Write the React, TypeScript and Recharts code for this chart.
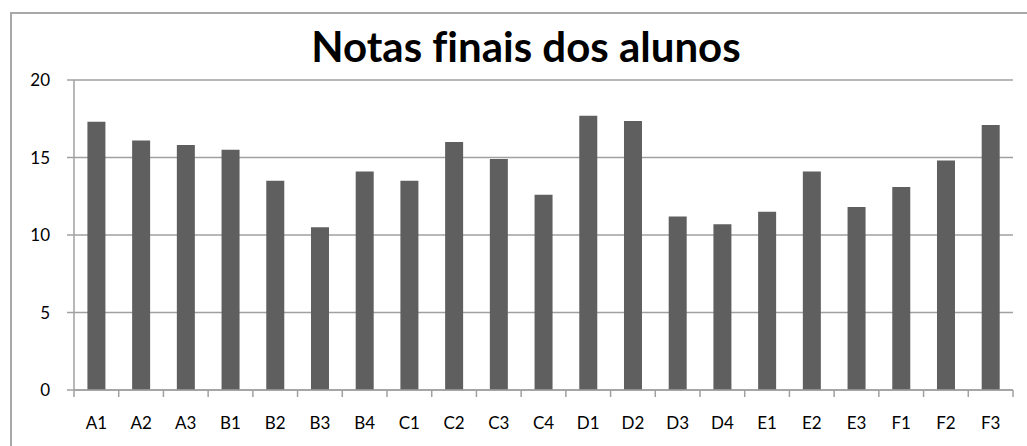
import React from 'react';
import { BarChart, Bar, XAxis, YAxis, CartesianGrid } from 'recharts';

// Student labels and final grades
const alunos = ['A1', 'A2', 'A3', 'B1', 'B2', 'B3', 'B4', 'C1', 'C2', 'C3', 'C4', 'D1', 'D2', 'D3', 'D4', 'E1', 'E2', 'E3', 'F1', 'F2', 'F3'];
const notas = [17.3, 16.1, 15.8, 15.5, 13.5, 10.5, 14.1, 13.5, 16.0, 14.9, 12.6, 17.7, 17.35, 11.2, 10.7, 11.5, 14.1, 11.8, 13.1, 14.8, 17.1];
const yTicks = [0, 5, 10, 15, 20];

const data = alunos.map((a, i) => ({ aluno: a, nota: notas[i] }));

const FONT = 'Lato, "Open Sans", sans-serif';
const AXIS_GREY = '#a0a0a0';
const TEXT = '#000';
const TICK_SIZE = 7;
const TICK_MARGIN = 26;

// Excel-style category axis: label centered, tick marks on the category boundaries
const CategoryTick = (props: any) => {
    const { x, y, payload, index, visibleTicksCount } = props;
    const half = payload?.offset ?? 0;
    const axisY = y - TICK_SIZE - TICK_MARGIN;
    const isLast = index === (visibleTicksCount ?? alunos.length) - 1;
    return (
        <g>
            <line x1={x - half} x2={x - half} y1={axisY} y2={axisY + TICK_SIZE} stroke={AXIS_GREY} strokeWidth={1.5} />
            {isLast && (
                <line x1={x + half} x2={x + half} y1={axisY} y2={axisY + TICK_SIZE} stroke={AXIS_GREY} strokeWidth={1.5} />
            )}
            <text x={x} y={y} dy="0.35em" textAnchor="middle" fontSize={17} fill={TEXT} fontFamily={FONT}>
                {payload.value}
            </text>
        </g>
    );
};

export default function App() {
    return (
        <div style={{ position: 'relative', width: 1027, height: 446, overflow: 'hidden', background: '#fff' }}>
            <style>{'body{margin:0}'}</style>
            <div
                style={{
                    position: 'absolute',
                    left: 10,
                    top: 12,
                    width: 1100,
                    height: 500,
                    border: '2px solid #a8a8a8',
                    boxSizing: 'border-box',
                }}
            />
            <div
                style={{
                    position: 'absolute',
                    top: 22,
                    left: 0,
                    width: 1052,
                    textAlign: 'center',
                    fontFamily: FONT,
                    fontWeight: 700,
                    fontSize: 42,
                    lineHeight: '48px',
                    fontVariantLigatures: 'none',
                    color: '#000',
                }}
            >
                Notas finais dos alunos
            </div>
            <div style={{ position: 'absolute', left: 0, top: 0 }}>
                <BarChart
                    width={1027}
                    height={446}
                    data={data}
                    margin={{ top: 80, right: 14, left: 14, bottom: 0 }}
                    barCategoryGap="30%"
                >
                    <CartesianGrid vertical={false} stroke={AXIS_GREY} strokeWidth={1.5} />
                    <XAxis
                        dataKey="aluno"
                        height={56}
                        interval={0}
                        tickLine={false}
                        tickSize={TICK_SIZE}
                        tickMargin={TICK_MARGIN}
                        axisLine={{ stroke: AXIS_GREY, strokeWidth: 1.5 }}
                        tick={<CategoryTick />}
                    />
                    <YAxis
                        width={60}
                        domain={[0, 20]}
                        ticks={yTicks}
                        interval={0}
                        tickSize={TICK_SIZE}
                        tickMargin={17}
                        tickLine={{ stroke: AXIS_GREY, strokeWidth: 1.5 }}
                        axisLine={{ stroke: AXIS_GREY, strokeWidth: 1.5 }}
                        tick={{ fontSize: 17, fill: TEXT, fontFamily: FONT }}
                    />
                    <Bar dataKey="nota" fill="#5f5f5f" isAnimationActive={false} />
                </BarChart>
            </div>
        </div>
    );
}
